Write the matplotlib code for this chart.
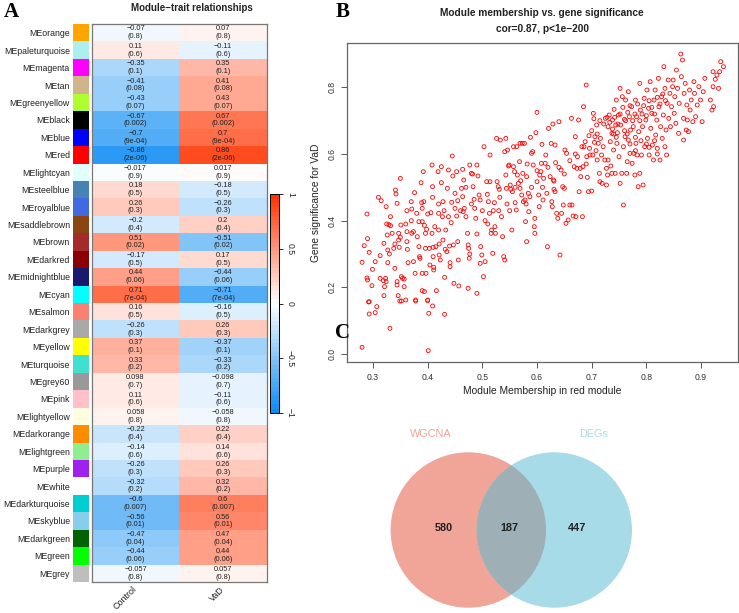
import matplotlib
matplotlib.use("Agg")
import matplotlib.pyplot as plt
from matplotlib.colors import ListedColormap
from matplotlib.patches import Rectangle, Circle
import numpy as np

plt.rcParams['font.family'] = ['Liberation Sans', 'DejaVu Sans']

# Panel A: module-trait table
modules = ["MEorange", "MEpaleturquoise", "MEmagenta", "MEtan", "MEgreenyellow",
           "MEblack", "MEblue", "MEred", "MElightcyan", "MEsteelblue",
           "MEroyalblue", "MEsaddlebrown", "MEbrown", "MEdarkred", "MEmidnightblue",
           "MEcyan", "MEsalmon", "MEdarkgrey", "MEyellow", "MEturquoise",
           "MEgrey60", "MEpink", "MElightyellow", "MEdarkorange", "MElightgreen",
           "MEpurple", "MEwhite", "MEdarkturquoise", "MEskyblue", "MEdarkgreen",
           "MEgreen", "MEgrey"]
module_colors = ["#FFA500", "#AFEEEE", "#FF00FF", "#D2B48C", "#ADFF2F",
                 "#000000", "#0000FF", "#FF0000", "#E0FFFF", "#4682B4",
                 "#4169E1", "#8B4513", "#A52A2A", "#8B0000", "#191970",
                 "#00FFFF", "#FA8072", "#A9A9A9", "#FFFF00", "#40E0D0",
                 "#999999", "#FFC0CB", "#FFFFE0", "#FF8C00", "#90EE90",
                 "#A020F0", "#FFFFFF", "#00CED1", "#87CEEB", "#006400",
                 "#00FF00", "#BEBEBE"]
control_cor = [-0.07, 0.11, -0.35, -0.41, -0.43, -0.67, -0.7, -0.86, -0.017, 0.18,
               0.26, -0.2, 0.51, -0.17, 0.44, 0.71, 0.16, -0.26, 0.37, 0.33,
               0.098, 0.11, 0.058, -0.22, -0.14, -0.26, -0.32, -0.6, -0.56, -0.47,
               -0.44, -0.057]
vad_cor = [-v for v in control_cor]
pvalues = ["0.8", "0.6", "0.1", "0.08", "0.07", "0.002", "9e-04", "2e-06", "0.9", "0.5",
           "0.3", "0.4", "0.02", "0.5", "0.06", "7e-04", "0.5", "0.3", "0.1", "0.2",
           "0.7", "0.6", "0.8", "0.4", "0.6", "0.3", "0.2", "0.007", "0.01", "0.04",
           "0.06", "0.8"]
traits = ["Control", "VaD"]

# Panel B: module membership vs gene significance (red module)
mm_gs = [
    (0.28, 0.02), (0.401, 0.01), (0.331, 0.077), (0.293, 0.12), (0.304, 0.124), (0.307, 0.142),
    (0.402, 0.122), (0.431, 0.119), (0.409, 0.144), (0.292, 0.156), (0.352, 0.159), (0.378, 0.159),
    (0.4, 0.16),
    (0.28, 0.275), (0.284, 0.325), (0.289, 0.42), (0.29, 0.346), (0.293, 0.305), (0.289, 0.228),
    (0.29, 0.222), (0.298, 0.205), (0.293, 0.157), (0.299, 0.254), (0.304, 0.277),
    (0.31, 0.47), (0.315, 0.46), (0.324, 0.442), (0.313, 0.295), (0.32, 0.332), (0.325, 0.39),
    (0.329, 0.388), (0.332, 0.385), (0.326, 0.357), (0.327, 0.312), (0.327, 0.274), (0.313, 0.227),
    (0.319, 0.22), (0.323, 0.227), (0.324, 0.217), (0.321, 0.202), (0.32, 0.175), (0.332, 0.412),
    (0.335, 0.362), (0.341, 0.492), (0.342, 0.48), (0.344, 0.452), (0.338, 0.317), (0.34, 0.257),
    (0.344, 0.217), (0.344, 0.207), (0.346, 0.175), (0.349, 0.159), (0.347, 0.342), (0.348, 0.32),
    (0.347, 0.362),
    (0.35, 0.527), (0.351, 0.387), (0.352, 0.232), (0.354, 0.227), (0.357, 0.225), (0.357, 0.202),
    (0.36, 0.162), (0.362, 0.43), (0.362, 0.367), (0.362, 0.337), (0.363, 0.314), (0.364, 0.274),
    (0.37, 0.457), (0.371, 0.435), (0.371, 0.362), (0.374, 0.367), (0.376, 0.484), (0.374, 0.277),
    (0.377, 0.242), (0.378, 0.162), (0.38, 0.422), (0.381, 0.352), (0.384, 0.397), (0.384, 0.322),
    (0.385, 0.292), (0.386, 0.287), (0.388, 0.514), (0.389, 0.454), (0.39, 0.437), (0.39, 0.397),
    (0.39, 0.242), (0.39, 0.19), (0.392, 0.547), (0.393, 0.457), (0.394, 0.386), (0.396, 0.362),
    (0.396, 0.317), (0.398, 0.374), (0.394, 0.187), (0.397, 0.242),
    (0.4, 0.162), (0.403, 0.317), (0.404, 0.267), (0.406, 0.424), (0.408, 0.567), (0.409, 0.502),
    (0.409, 0.47), (0.408, 0.362), (0.41, 0.32), (0.41, 0.292), (0.411, 0.26), (0.411, 0.252),
    (0.413, 0.382), (0.415, 0.322), (0.416, 0.19), (0.419, 0.547), (0.42, 0.422), (0.42, 0.372),
    (0.421, 0.33), (0.421, 0.297), (0.423, 0.282), (0.425, 0.562), (0.425, 0.514), (0.427, 0.412),
    (0.428, 0.457), (0.431, 0.23), (0.428, 0.342), (0.432, 0.314), (0.433, 0.372), (0.435, 0.307),
    (0.436, 0.497), (0.438, 0.552), (0.438, 0.412), (0.44, 0.324), (0.441, 0.274), (0.441, 0.262),
    (0.443, 0.394), (0.445, 0.594), (0.446, 0.534), (0.444, 0.455), (0.447, 0.327),
    (0.448, 0.212), (0.45, 0.482), (0.45, 0.437), (0.453, 0.547), (0.453, 0.414), (0.455, 0.337),
    (0.456, 0.282), (0.457, 0.204), (0.464, 0.554), (0.466, 0.522), (0.462, 0.497), (0.464, 0.472),
    (0.465, 0.427), (0.467, 0.437), (0.47, 0.412), (0.473, 0.362), (0.474, 0.327), (0.475, 0.317),
    (0.477, 0.3), (0.476, 0.287), (0.474, 0.197), (0.477, 0.567), (0.48, 0.542), (0.482, 0.54),
    (0.483, 0.502), (0.485, 0.464), (0.486, 0.437), (0.488, 0.407), (0.49, 0.36), (0.49, 0.182),
    (0.49, 0.567), (0.492, 0.534), (0.494, 0.477), (0.496, 0.462), (0.497, 0.322), (0.499, 0.297),
    (0.496, 0.272), (0.502, 0.232),
    (0.503, 0.622), (0.505, 0.277), (0.508, 0.517), (0.509, 0.479), (0.511, 0.457), (0.513, 0.422),
    (0.514, 0.597), (0.514, 0.517), (0.516, 0.362), (0.517, 0.372), (0.519, 0.302), (0.52, 0.43),
    (0.522, 0.454), (0.523, 0.382), (0.524, 0.362), (0.526, 0.647), (0.527, 0.517), (0.529, 0.502),
    (0.531, 0.494), (0.532, 0.47), (0.533, 0.642), (0.535, 0.412), (0.537, 0.352), (0.539, 0.292),
    (0.541, 0.282), (0.541, 0.607), (0.543, 0.647), (0.543, 0.537), (0.544, 0.497),
    (0.546, 0.612), (0.548, 0.564), (0.549, 0.567), (0.551, 0.507), (0.552, 0.494), (0.554, 0.372),
    (0.555, 0.487), (0.557, 0.622), (0.557, 0.562), (0.559, 0.547), (0.56, 0.454), (0.562, 0.432),
    (0.563, 0.622), (0.564, 0.537), (0.566, 0.512), (0.568, 0.577), (0.569, 0.497), (0.569, 0.632),
    (0.572, 0.477), (0.573, 0.632), (0.574, 0.542), (0.575, 0.457), (0.577, 0.632), (0.578, 0.462),
    (0.579, 0.397), (0.581, 0.532), (0.581, 0.337), (0.582, 0.57), (0.584, 0.482), (0.585, 0.427),
    (0.587, 0.472), (0.588, 0.65), (0.59, 0.602), (0.592, 0.607), (0.593, 0.567), (0.595, 0.382),
    (0.596, 0.362), (0.596, 0.407), (0.598, 0.664),
    (0.6, 0.725), (0.6, 0.517), (0.603, 0.477), (0.604, 0.442), (0.605, 0.537), (0.607, 0.547),
    (0.608, 0.572), (0.609, 0.629), (0.611, 0.462), (0.612, 0.527), (0.615, 0.572), (0.616, 0.597),
    (0.618, 0.482), (0.619, 0.322), (0.621, 0.677), (0.624, 0.532), (0.626, 0.632), (0.627, 0.457),
    (0.628, 0.442), (0.629, 0.69), (0.63, 0.522), (0.631, 0.519), (0.631, 0.494), (0.633, 0.487),
    (0.633, 0.627), (0.634, 0.574), (0.636, 0.422), (0.638, 0.407), (0.64, 0.697), (0.642, 0.297),
    (0.644, 0.552), (0.645, 0.422), (0.647, 0.502), (0.648, 0.447), (0.65, 0.497), (0.651, 0.612),
    (0.653, 0.392), (0.654, 0.602),
    (0.657, 0.402), (0.66, 0.447), (0.663, 0.707), (0.664, 0.447), (0.666, 0.414), (0.668, 0.562),
    (0.67, 0.652), (0.671, 0.412), (0.673, 0.557), (0.674, 0.592), (0.676, 0.702), (0.677, 0.487),
    (0.679, 0.557), (0.68, 0.532), (0.682, 0.622), (0.683, 0.412), (0.684, 0.562), (0.685, 0.742),
    (0.686, 0.622), (0.688, 0.637), (0.69, 0.807), (0.691, 0.592), (0.692, 0.53), (0.694, 0.487),
    (0.696, 0.617), (0.697, 0.597), (0.7, 0.489), (0.702, 0.597), (0.703, 0.722), (0.704, 0.706),
    (0.706, 0.652), (0.708, 0.61), (0.709, 0.687), (0.71, 0.582), (0.712, 0.632), (0.714, 0.542),
    (0.715, 0.517), (0.716, 0.647), (0.718, 0.597), (0.719, 0.512), (0.721, 0.622), (0.724, 0.582),
    (0.725, 0.707), (0.727, 0.557), (0.727, 0.507), (0.729, 0.537), (0.73, 0.582), (0.73, 0.682),
    (0.732, 0.717), (0.734, 0.637), (0.735, 0.564), (0.737, 0.542), (0.737, 0.662), (0.738, 0.702),
    (0.74, 0.612), (0.741, 0.734), (0.743, 0.542), (0.744, 0.687), (0.745, 0.762), (0.746, 0.632),
    (0.747, 0.664), (0.749, 0.717), (0.75, 0.592), (0.752, 0.797), (0.752, 0.512),
    (0.753, 0.687), (0.755, 0.542), (0.756, 0.772), (0.758, 0.447), (0.758, 0.622), (0.76, 0.704),
    (0.761, 0.652), (0.762, 0.762), (0.764, 0.542), (0.765, 0.577), (0.767, 0.787), (0.767, 0.642),
    (0.769, 0.712), (0.77, 0.602), (0.771, 0.672), (0.773, 0.742), (0.774, 0.572), (0.776, 0.682),
    (0.777, 0.602), (0.779, 0.537), (0.78, 0.762), (0.781, 0.632), (0.782, 0.712), (0.783, 0.597),
    (0.785, 0.502), (0.786, 0.667), (0.788, 0.812), (0.788, 0.542), (0.789, 0.732), (0.791, 0.597),
    (0.793, 0.682), (0.794, 0.507), (0.796, 0.767), (0.797, 0.622), (0.799, 0.702),
    (0.801, 0.792), (0.802, 0.647), (0.804, 0.737), (0.805, 0.597), (0.807, 0.817), (0.808, 0.677),
    (0.81, 0.722), (0.811, 0.627), (0.813, 0.582), (0.814, 0.762), (0.816, 0.792), (0.817, 0.657),
    (0.819, 0.702), (0.82, 0.617), (0.822, 0.827), (0.823, 0.742), (0.825, 0.582), (0.826, 0.682),
    (0.828, 0.772), (0.829, 0.647), (0.831, 0.717), (0.832, 0.862), (0.834, 0.797), (0.834, 0.622),
    (0.836, 0.672), (0.837, 0.597), (0.838, 0.752), (0.84, 0.822), (0.841, 0.707), (0.843, 0.782),
    (0.844, 0.682), (0.846, 0.742), (0.848, 0.802),
    (0.849, 0.822), (0.851, 0.722), (0.852, 0.772), (0.854, 0.692), (0.855, 0.852), (0.857, 0.797),
    (0.859, 0.662), (0.86, 0.752), (0.863, 0.9), (0.864, 0.832), (0.866, 0.882), (0.868, 0.707),
    (0.868, 0.642), (0.869, 0.782), (0.871, 0.812), (0.873, 0.672), (0.874, 0.747), (0.875, 0.702),
    (0.877, 0.667), (0.879, 0.792), (0.88, 0.732), (0.882, 0.762), (0.885, 0.697), (0.887, 0.817),
    (0.888, 0.782), (0.89, 0.712), (0.893, 0.747), (0.896, 0.802), (0.899, 0.762), (0.902, 0.697),
    (0.904, 0.787), (0.907, 0.827), (0.917, 0.762), (0.92, 0.732), (0.922, 0.847), (0.923, 0.742),
    (0.926, 0.824), (0.929, 0.837), (0.932, 0.797), (0.934, 0.847), (0.936, 0.877), (0.941, 0.862),
    (0.922, 0.802),
    # dense upper-right cluster
    (0.722, 0.69), (0.728, 0.71), (0.733, 0.695), (0.738, 0.675), (0.742, 0.71), (0.748, 0.69),
    (0.752, 0.72), (0.757, 0.74), (0.762, 0.7), (0.766, 0.725), (0.77, 0.745), (0.775, 0.7),
    (0.779, 0.72), (0.784, 0.75), (0.788, 0.7), (0.792, 0.72), (0.795, 0.745), (0.8, 0.715),
    (0.805, 0.76), (0.81, 0.74), (0.815, 0.72), (0.82, 0.77), (0.825, 0.75), (0.83, 0.78),
    (0.835, 0.76), (0.74, 0.66), (0.745, 0.65), (0.76, 0.67), (0.765, 0.66), (0.78, 0.65),
    (0.79, 0.64), (0.8, 0.63), (0.805, 0.62), (0.815, 0.64), (0.82, 0.6), (0.78, 0.61),
    (0.77, 0.63), (0.71, 0.66), (0.7, 0.67), (0.695, 0.655), (0.715, 0.7), (0.705, 0.635),
    # extra mid-range points
    (0.455, 0.46), (0.46, 0.43), (0.47, 0.5), (0.48, 0.45), (0.5, 0.43), (0.505, 0.4),
    (0.51, 0.39), (0.53, 0.43), (0.545, 0.45), (0.55, 0.43), (0.56, 0.5), (0.57, 0.52),
    (0.58, 0.45), (0.59, 0.5), (0.6, 0.55), (0.61, 0.5), (0.62, 0.56), (0.64, 0.56),
    (0.65, 0.54), (0.66, 0.58), (0.67, 0.6), (0.69, 0.57), (0.42, 0.45), (0.43, 0.43),
    (0.4, 0.42), (0.37, 0.4), (0.36, 0.39), (0.35, 0.35), (0.34, 0.33), (0.33, 0.3),
]
mm = [p[0] for p in mm_gs]
gs = [p[1] for p in mm_gs]

# Panel C: Venn counts
set_names = ["WGCNA", "DEGs"]
venn_counts = [580, 187, 447]

W, H = 739, 613
fig = plt.figure(figsize=(W / 100, H / 100), dpi=100)


def fx(px):
    return px / W


def fy(py):
    return 1 - py / H


def fmt(v):
    return f"{v:g}".replace("-", "\u2212")


# colour scale like WGCNA blueWhiteRed
blue_end = np.array([0.05, 0.55, 0.95])
red_end = np.array([1.0, 0.2, 0.0])
white = np.ones(3)
cols = []
for t in np.linspace(-1, 1, 50):
    if t < 0:
        cols.append(white + (blue_end - white) * (-t))
    else:
        cols.append(white + (red_end - white) * t)
cmap = ListedColormap(cols)

# ---- A ----
n = len(modules)
top, bottom = 24, 582
ax_h = fig.add_axes([fx(91.7), fy(bottom), (266.7 - 91.7) / W, (bottom - top) / H])
vals = np.column_stack([control_cor, vad_cor])
mesh = ax_h.pcolormesh(np.arange(3), np.arange(n + 1), vals, cmap=cmap, vmin=-1, vmax=1)
ax_h.set_xlim(0, 2)
ax_h.set_ylim(n, 0)
ax_h.set_xticks([])
ax_h.set_yticks([])
for s in ax_h.spines.values():
    s.set_color("#777777")
    s.set_linewidth(0.9)
for i in range(n):
    for j, col in enumerate([control_cor, vad_cor]):
        ax_h.text(j + 0.5, i + 0.5, f"{fmt(col[i])}\n({pvalues[i]})", ha="center", va="center",
                  fontsize=5.3, color="#222222", linespacing=1.15)
for j, t in enumerate(traits):
    ax_h.text(j + 0.5, n + 0.35, t, rotation=45, rotation_mode="anchor", ha="right", va="center",
              fontsize=6.5, color="#222222")

ax_c = fig.add_axes([fx(72.7), fy(bottom), 16 / W, (bottom - top) / H])
for i, c in enumerate(module_colors):
    ax_c.add_patch(Rectangle((0, i), 1, 1, facecolor=c, edgecolor="none"))
ax_c.set_xlim(0, 1)
ax_c.set_ylim(n, 0)
ax_c.set_yticks(np.arange(n) + 0.5)
ax_c.set_yticklabels(modules, fontsize=6.3, color="#222222")
ax_c.tick_params(axis="y", length=0, pad=2)
ax_c.set_xticks([])
for s in ax_c.spines.values():
    s.set_visible(False)

cax = fig.add_axes([fx(270), fy(413), 9 / W, 219 / H])
cb = fig.colorbar(mesh, cax=cax, ticks=[-1, -0.5, 0, 0.5, 1])
cb.ax.set_yticklabels(["\u22121", "\u22120.5", "0", "0.5", "1"], rotation=-90, va="center",
                      fontsize=6.2, color="#222222")
cb.ax.tick_params(length=3, width=0.6, pad=2)
cb.outline.set_linewidth(0.7)

fig.text(fx(191.7), fy(8.3), "Module\u2212trait relationships", ha="center", va="center",
         fontsize=7, weight="bold", color="#222222")

# ---- B ----
ax_s = fig.add_axes([fx(347.3), fy(362.3), (737.5 - 347.3) / W, (362.3 - 42.7) / H])
ax_s.scatter(mm, gs, s=8, facecolors="none", edgecolors="red", linewidths=0.6)
ax_s.set_xlim(0.253, 0.9667)
ax_s.set_ylim(-0.025, 0.934)
ax_s.set_xticks([0.3, 0.4, 0.5, 0.6, 0.7, 0.8, 0.9])
ax_s.set_xticklabels(["0.3", "0.4", "0.5", "0.6", "0.7", "0.8", "0.9"])
ax_s.set_yticks([0.0, 0.2, 0.4, 0.6, 0.8])
ax_s.set_yticklabels(["0.0", "0.2", "0.4", "0.6", "0.8"], rotation=90, va="center")
ax_s.tick_params(labelsize=6.2, labelcolor="#333333", color="#555555", length=4, width=0.7)
for s in ax_s.spines.values():
    s.set_color("#666666")
    s.set_linewidth(0.9)
ax_s.set_xlabel("Module Membership in red module", fontsize=7.4, color="#222222", labelpad=3)
ax_s.set_ylabel("Gene significance for VaD", fontsize=7.4, color="#222222", labelpad=5)
fig.text(fx(542), fy(13.3), "Module membership vs. gene significance", ha="center", va="center",
         fontsize=7.3, weight="bold", color="#222222")
fig.text(fx(542), fy(29.3), "cor=0.87, p<1e\u2212200", ha="center", va="center",
         fontsize=7.3, weight="bold", color="#222222")

# ---- C ----
ax_v = fig.add_axes([fx(370), 0, 280 / W, (613 - 420) / H])
ax_v.set_xlim(370, 650)
ax_v.set_ylim(613, 420)
ax_v.axis("off")
left = Circle((468.3, 530), 77.7, facecolor="#F0A598", edgecolor="none")
right = Circle((554.3, 530), 77.7, facecolor="#A7DBE8", edgecolor="none")
ax_v.add_patch(left)
ax_v.add_patch(right)
ov = Circle((554.3, 530), 77.7, facecolor="#9EAFB5", edgecolor="none")
ax_v.add_patch(ov)
ov.set_clip_path(left)
ax_v.text(430.7, 434.3, set_names[0], ha="center", va="center", fontsize=7.8, color="#F2A395")
ax_v.text(594, 434.3, set_names[1], ha="center", va="center", fontsize=7.8, color="#A7DBE8")
for x, c in zip([443.3, 509.3, 576.7], venn_counts):
    ax_v.text(x, 528.3, str(c), ha="center", va="center", fontsize=7.8, weight="bold",
              color="#222222")

# panel letters
for lx, ly, lab in [(11, 12, "A"), (343, 12, "B"), (343, 333, "C")]:
    fig.text(fx(lx), fy(ly), lab, ha="center", va="center", fontsize=15, weight="bold",
             family="Liberation Serif")

fig.savefig("out.png", dpi=100)
